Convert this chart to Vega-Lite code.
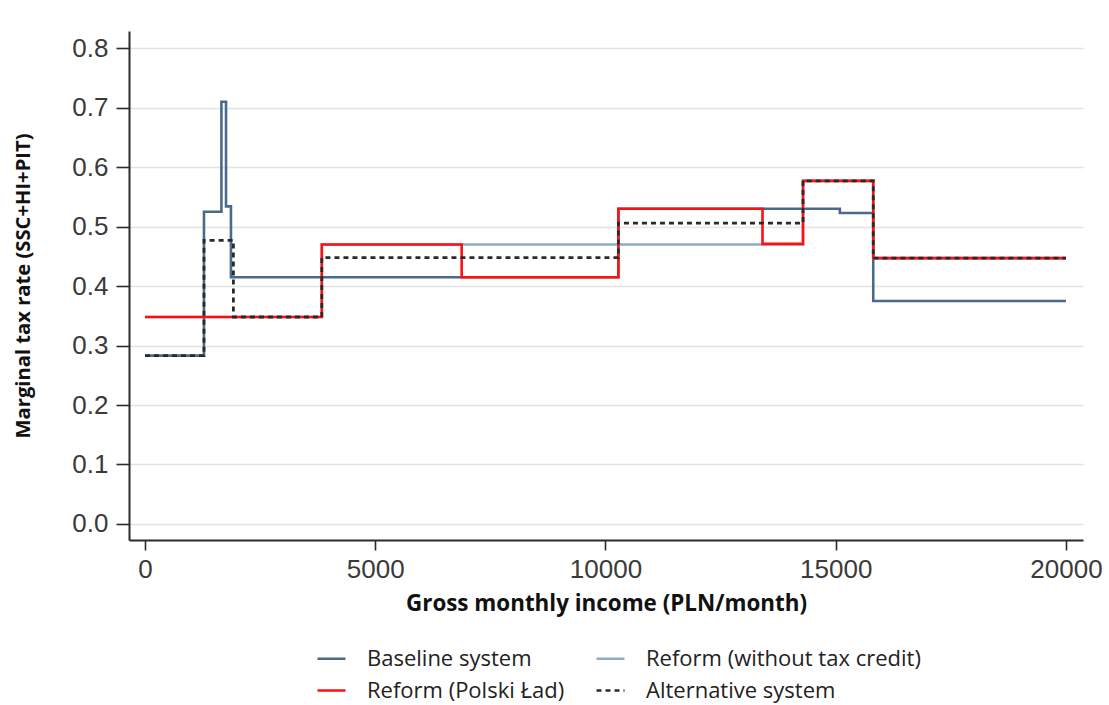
{
  "$schema": "https://vega.github.io/schema/vega-lite/v6.json",
  "width": 954,
  "height": 509,
  "autosize": {"type": "none"},
  "padding": {"left": 129, "top": 31, "right": 26, "bottom": 165},
  "background": "white",
  "config": {
    "view": {"stroke": null},
    "axis": {
      "domainColor": "#2b2b2b",
      "domainWidth": 2,
      "tickColor": "#2b2b2b",
      "tickWidth": 1.6,
      "labelFont": "Liberation Sans",
      "labelFontSize": 26,
      "labelColor": "#3a3a3a",
      "titleFont": "Open Sans",
      "titleFontWeight": "bold",
      "titleColor": "#111111"
    }
  },
  "data": {
    "values": [
      {"series": "Baseline system", "income": 0, "rate": 0.283},
      {"series": "Baseline system", "income": 1281, "rate": 0.525},
      {"series": "Baseline system", "income": 1660, "rate": 0.71},
      {"series": "Baseline system", "income": 1760, "rate": 0.534},
      {"series": "Baseline system", "income": 1867, "rate": 0.415},
      {"series": "Baseline system", "income": 10280, "rate": 0.53},
      {"series": "Baseline system", "income": 15090, "rate": 0.523},
      {"series": "Baseline system", "income": 15815, "rate": 0.375},
      {"series": "Baseline system", "income": 20000, "rate": 0.375},

      {"series": "Reform (without tax credit)", "income": 0, "rate": 0.348},
      {"series": "Reform (without tax credit)", "income": 3840, "rate": 0.47},
      {"series": "Reform (without tax credit)", "income": 14290, "rate": 0.577},
      {"series": "Reform (without tax credit)", "income": 15815, "rate": 0.447},
      {"series": "Reform (without tax credit)", "income": 20000, "rate": 0.447},

      {"series": "Reform (Polski Ład)", "income": 0, "rate": 0.348},
      {"series": "Reform (Polski Ład)", "income": 3840, "rate": 0.47},
      {"series": "Reform (Polski Ład)", "income": 6877, "rate": 0.415},
      {"series": "Reform (Polski Ład)", "income": 10280, "rate": 0.53},
      {"series": "Reform (Polski Ład)", "income": 13410, "rate": 0.471},
      {"series": "Reform (Polski Ład)", "income": 14290, "rate": 0.577},
      {"series": "Reform (Polski Ład)", "income": 15815, "rate": 0.447},
      {"series": "Reform (Polski Ład)", "income": 20000, "rate": 0.447},

      {"series": "Alternative system", "income": 0, "rate": 0.283},
      {"series": "Alternative system", "income": 1281, "rate": 0.477},
      {"series": "Alternative system", "income": 1920, "rate": 0.348},
      {"series": "Alternative system", "income": 3840, "rate": 0.448},
      {"series": "Alternative system", "income": 10280, "rate": 0.506},
      {"series": "Alternative system", "income": 14290, "rate": 0.577},
      {"series": "Alternative system", "income": 15815, "rate": 0.447},
      {"series": "Alternative system", "income": 20000, "rate": 0.447}
    ]
  },
  "encoding": {
    "x": {
      "field": "income",
      "type": "quantitative",
      "scale": {"domain": [-347, 20370], "nice": false, "zero": false},
      "axis": {
        "title": "Gross monthly income (PLN/month)",
        "titleFontSize": 22.4,
        "values": [0, 5000, 10000, 15000, 20000],
        "format": "d",
        "grid": false,
        "tickSize": 10,
        "labelPadding": 6,
        "titlePadding": 10
      }
    },
    "y": {
      "field": "rate",
      "type": "quantitative",
      "scale": {"domain": [-0.027, 0.829], "nice": false, "zero": false},
      "axis": {
        "title": "Marginal tax rate (SSC+HI+PIT)",
        "titleFontSize": 20.2,
        "values": [0, 0.1, 0.2, 0.3, 0.4, 0.5, 0.6, 0.7, 0.8],
        "format": ".1f",
        "grid": true,
        "gridColor": "#e3e3e3",
        "gridWidth": 1.6,
        "tickSize": 13,
        "labelPadding": 8,
        "titlePadding": 38
      }
    },
    "color": {
      "field": "series",
      "type": "nominal",
      "scale": {
        "domain": ["Baseline system", "Reform (Polski Ład)", "Reform (without tax credit)", "Alternative system"],
        "range": ["#4a6a8c", "#ff1010", "#8eabcb", "#2a2a2a"]
      },
      "legend": {
        "title": null,
        "orient": "none",
        "legendX": 187,
        "legendY": 612,
        "columns": 2,
        "padding": 0,
        "symbolType": "stroke",
        "symbolSize": 784,
        "symbolStrokeWidth": 2.6,
        "labelFont": "Open Sans",
        "labelFontSize": 22,
        "labelLimit": 400,
        "labelColor": "#222222",
        "labelOffset": 20,
        "columnPadding": 26,
        "rowPadding": 5
      }
    },
    "strokeDash": {
      "field": "series",
      "type": "nominal",
      "scale": {
        "domain": ["Baseline system", "Reform (Polski Ład)", "Reform (without tax credit)", "Alternative system"],
        "range": [[1, 0], [1, 0], [1, 0], [5, 4]]
      },
      "legend": {
        "title": null,
        "orient": "none",
        "legendX": 187,
        "legendY": 612,
        "columns": 2,
        "padding": 0,
        "symbolType": "stroke",
        "symbolSize": 784,
        "symbolStrokeWidth": 2.6,
        "labelFont": "Open Sans",
        "labelFontSize": 22,
        "labelLimit": 400,
        "labelColor": "#222222",
        "labelOffset": 20,
        "columnPadding": 26,
        "rowPadding": 5
      }
    }
  },
  "layer": [
    {
      "transform": [{"filter": "datum.series === 'Baseline system'"}],
      "mark": {"type": "line", "interpolate": "step-after", "strokeWidth": 2.6}
    },
    {
      "transform": [{"filter": "datum.series === 'Reform (without tax credit)'"}],
      "mark": {"type": "line", "interpolate": "step-after", "strokeWidth": 2.6}
    },
    {
      "transform": [{"filter": "datum.series === 'Reform (Polski Ład)'"}],
      "mark": {"type": "line", "interpolate": "step-after", "strokeWidth": 2.6}
    },
    {
      "transform": [{"filter": "datum.series === 'Alternative system'"}],
      "mark": {"type": "line", "interpolate": "step-after", "strokeWidth": 2.8}
    }
  ]
}
